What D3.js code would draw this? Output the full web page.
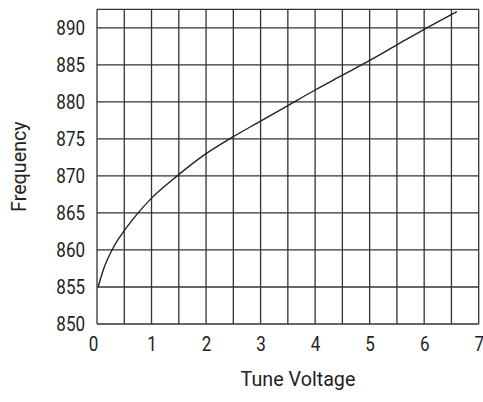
<!DOCTYPE html>
<html>
<head>
<meta charset="utf-8">
<script src="https://cdn.jsdelivr.net/npm/d3@7"></script>
<style>
  body { margin: 0; background: #fff; }
  text { font-family: Roboto, "DejaVu Sans Condensed", sans-serif; fill: #222; }
</style>
</head>
<body>
<div id="chart"></div>
<script>
// dữ liệu
const voltage = [0.02, 0.12, 0.29, 0.5, 0.72, 1, 1.47, 2, 2.5, 3, 3.5, 4, 4.5, 5, 5.5, 6, 6.6];
const frequency = [855, 857.4, 860.2, 862.6, 864.7, 867.0, 870, 873.0, 875.3, 877.4, 879.5, 881.6, 883.6, 885.6, 887.7, 889.8, 892.2];
const xTicks = [0, 1, 2, 3, 4, 5, 6, 7];
const yTicks = [850, 855, 860, 865, 870, 875, 880, 885, 890];
const xGrid = d3.range(0, 7.01, 0.5);
const yGrid = [850, 855, 860, 865, 870, 875, 880, 885, 890, 892.5];

const w = 483, h = 402;
const mLeft = 97, mRight = 478.7, mTop = 9.3, mBottom = 324;
const narrow = 0.85;   // chữ số hẹp
const narrowT = 0.94;  // tiêu đề trục

const svg = d3.select("#chart").append("svg")
    .attr("width", w).attr("height", h);

const x = d3.scaleLinear().domain([0, 7]).range([mLeft, mRight]);
const y = d3.scaleLinear().domain([850, 892.5]).range([mBottom, mTop]);

// lưới
svg.append("g").selectAll("line")
    .data(xGrid)
    .join("line")
    .attr("x1", d => x(d)).attr("x2", d => x(d))
    .attr("y1", y(850)).attr("y2", y(892.5))
    .attr("stroke", "#333").attr("stroke-width", 1.3);

svg.append("g").selectAll("line")
    .data(yGrid)
    .join("line")
    .attr("x1", x(0)).attr("x2", x(7))
    .attr("y1", d => y(d)).attr("y2", d => y(d))
    .attr("stroke", "#333").attr("stroke-width", 1.3);

// trục
const gx = svg.append("g")
    .attr("transform", `translate(0,${mBottom})`)
    .call(d3.axisBottom(x).tickValues(xTicks).tickSize(0).tickPadding(13).tickFormat(d3.format("d")));
gx.select(".domain").remove();
gx.selectAll("text").style("font-size", "20px").attr("fill", "#222")
    .attr("dx", d => d === 0 ? -4 / narrow : 0)
    .attr("transform", `scale(${narrow},1)`);

const gy = svg.append("g")
    .attr("transform", `translate(${mLeft},0)`)
    .call(d3.axisLeft(y).tickValues(yTicks).tickSize(0).tickPadding(12).tickFormat(d3.format("d")));
gy.select(".domain").remove();
gy.selectAll("text").style("font-size", "20px").attr("fill", "#222")
    .attr("x", -12 / narrow)
    .attr("transform", `scale(${narrow},1)`);

// đường cong
const line = d3.line()
    .x((d, i) => x(voltage[i]))
    .y(d => y(d))
    .curve(d3.curveMonotoneX);

svg.append("path")
    .datum(frequency)
    .attr("fill", "none")
    .attr("stroke", "#222")
    .attr("stroke-width", 1.4)
    .attr("d", line);

// nhãn trục
svg.append("text")
    .attr("transform", `translate(298,386) scale(${narrowT},1)`)
    .attr("text-anchor", "middle")
    .style("font-size", "21px")
    .text("Tune Voltage");

svg.append("text")
    .attr("transform", `translate(26,${(mTop + mBottom) / 2}) rotate(-90) scale(${narrowT},1)`)
    .attr("text-anchor", "middle")
    .style("font-size", "21px")
    .text("Frequency");
</script>
</body>
</html>
